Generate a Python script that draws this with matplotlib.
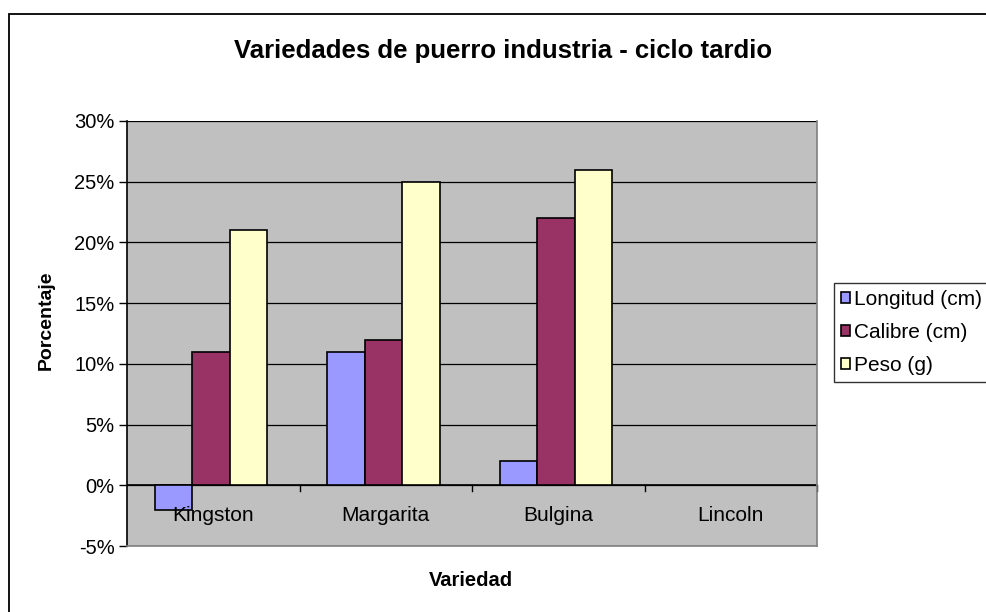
import numpy as np
import matplotlib
matplotlib.use("Agg")
import matplotlib.pyplot as plt
from matplotlib.patches import Rectangle
from matplotlib.ticker import FuncFormatter

plt.rcParams['font.family'] = ['Liberation Sans', 'DejaVu Sans']

categories = ["Kingston", "Margarita", "Bulgina", "Lincoln"]
series_names = ["Longitud (cm)", "Calibre (cm)", "Peso (g)"]
longitud = [-2, 11, 2, np.nan]
calibre = [11, 12, 22, np.nan]
peso = [21, 25, 26, np.nan]
colors = ["#9999FF", "#993366", "#FFFFCC"]
yticks = [-5, 0, 5, 10, 15, 20, 25, 30]

W, H = 987, 612
fig = plt.figure(figsize=(W / 100, H / 100), dpi=100)

# outer chart frame
fig.patches.append(Rectangle((9 / W, -0.05), 1.2, 1 - 14 / H + 0.05, transform=fig.transFigure,
                             fill=False, edgecolor='black', linewidth=1.3, zorder=0))

ax = fig.add_axes([127 / W, 66 / H, 690 / W, 425 / H])
ax.set_facecolor('#C0C0C0')

x = np.arange(len(categories))
bw = 0.217
for i, (vals, name, c) in enumerate(zip([longitud, calibre, peso], series_names, colors)):
    ax.bar(x + (i - 1) * bw - 0.013, vals, width=bw, color=c, edgecolor='black', linewidth=1.2,
           label=name, zorder=3)

ax.set_xlim(-0.5, len(categories) - 0.5)
ax.set_ylim(-5, 30)
ax.set_yticks(yticks)
ax.yaxis.set_major_formatter(FuncFormatter(lambda v, p: f"{int(v)}%"))
ax.yaxis.grid(True, color='black', linewidth=0.9, zorder=1)
ax.set_axisbelow(True)
ax.tick_params(axis='y', direction='out', length=6, width=1, labelsize=14.5, pad=3, colors='black')

for s in ['top', 'right', 'bottom']:
    ax.spines[s].set_color('#808080')
    ax.spines[s].set_linewidth(1.2)
ax.spines['top'].set_visible(False)
ax.spines['left'].set_color('black')
ax.spines['left'].set_linewidth(1.2)

# category axis at zero
ax.set_xticks([])
ax.axhline(0, color='black', linewidth=1.2, zorder=2)
for b in np.arange(0.5, len(categories), 1.0):
    ax.plot([b, b], [0, -0.45], color='black', linewidth=1, zorder=2, clip_on=False)
for xi, cat in zip(x, categories):
    ax.text(xi, -2.45, cat, ha='center', va='center', fontsize=15, zorder=4)

fig.text(503 / W, 1 - 51 / H, "Variedades de puerro industria - ciclo tardio",
         ha='center', va='center', fontsize=18.5, fontweight='bold')
fig.text(471 / W, 1 - 580 / H, "Variedad", ha='center', va='center', fontsize=14.5, fontweight='bold')
fig.text(46 / W, 1 - 320 / H, "Porcentaje", ha='center', va='center', fontsize=14,
         fontweight='bold', rotation=90)

leg = fig.legend(loc='upper left', bbox_to_anchor=(834 / W, 1 - 283 / H), fontsize=15,
                 frameon=True, fancybox=False, handlelength=0.42, handleheight=0.42,
                 handletextpad=0.2, labelspacing=0.66, borderpad=0.35, borderaxespad=0)
leg.get_frame().set_edgecolor('black')
leg.get_frame().set_linewidth(1.0)

fig.savefig("out.png", dpi=100)
